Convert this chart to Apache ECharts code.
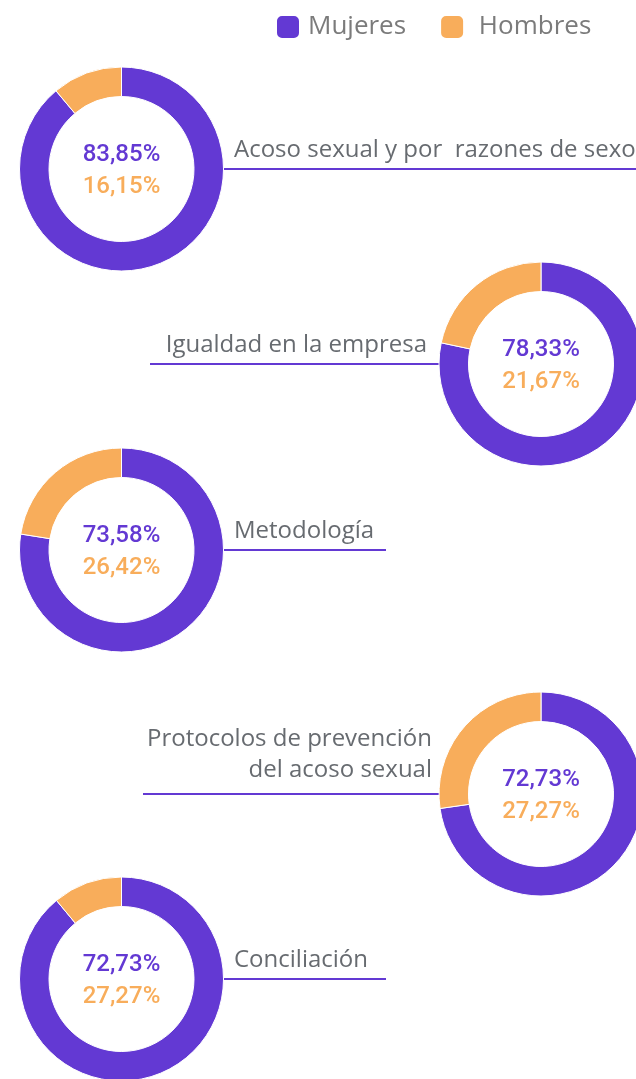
<!DOCTYPE html>
<html>
<head>
<meta charset="utf-8">
<script src="https://cdn.jsdelivr.net/npm/echarts@6/dist/echarts.min.js"></script>
<style>
html,body{margin:0;padding:0;background:#fff;}
#c{width:636px;height:1079px;}
</style>
</head>
<body>
<div id="c"></div>
<script>
// ---- data ----
var categories = ['Acoso sexual y por  razones de sexo', 'Igualdad en la empresa', 'Metodología', 'Protocolos de prevención\ndel acoso sexual', 'Conciliación'];
var seriesNames = ['Mujeres', 'Hombres'];
var mujeresLabels = ['83,85%', '78,33%', '73,58%', '72,73%', '72,73%'];
var hombresLabels = ['16,15%', '21,67%', '26,42%', '27,27%', '27,27%'];
// arc sizes as drawn in the picture
var mujeresArc = [88.9, 78.33, 77.5, 72.73, 89.0];
var hombresArc = [11.1, 21.67, 22.5, 27.27, 11.0];

// ---- layout ----
var PURPLE = '#6339d3', ORANGE = '#f8ad5b';
var centers = [[121.5, 169], [541, 364], [121.5, 550], [541, 794], [121.5, 979]];
var sides = ['right', 'left', 'right', 'left', 'right'];
var lineSpans = [[224, 636], [150, 440], [224, 386], [143, 440], [224, 386]];

var chart = echarts.init(document.getElementById('c'), null, {renderer: 'canvas'});

var series = categories.map(function (cat, i) {
  return {
    type: 'pie',
    name: cat,
    center: centers[i],
    radius: [72.5, 102],
    startAngle: 90,
    clockwise: true,
    silent: true,
    avoidLabelOverlap: false,
    itemStyle: {borderColor: '#fff', borderWidth: 1},
    labelLine: {show: false},
    data: [
      {name: seriesNames[0], value: mujeresArc[i], itemStyle: {color: PURPLE},
        label: {show: true, position: 'center', padding: [4, 0, 0, 0],
          formatter: '{a|' + mujeresLabels[i] + '}\n{b|' + hombresLabels[i] + '}',
          rich: {
            a: {color: PURPLE, fontSize: 24, fontWeight: 500, fontFamily: 'Roboto', lineHeight: 32, align: 'center'},
            b: {color: ORANGE, fontSize: 24, fontWeight: 500, fontFamily: 'Roboto', lineHeight: 32, align: 'center'}
          }}},
      {name: seriesNames[1], value: hombresArc[i], itemStyle: {color: ORANGE}, label: {show: false}}
    ],
    emphasis: {disabled: true}
  };
});

var graphics = [];
categories.forEach(function (cat, i) {
  var cy = centers[i][1];
  var span = lineSpans[i];
  graphics.push({
    type: 'line', silent: true,
    shape: {x1: span[0], y1: cy, x2: span[1], y2: cy},
    style: {stroke: PURPLE, lineWidth: 2}
  });
  var multi = cat.indexOf('\n') >= 0;
  graphics.push({
    type: 'text', silent: true,
    x: sides[i] === 'right' ? 234 : (multi ? 432 : 427),
    y: multi ? cy - 39 : cy - 19,
    style: {
      text: cat,
      fill: '#676b70',
      fontFamily: 'Open Sans',
      fontSize: 24,
      align: sides[i] === 'right' ? 'left' : 'right',
      verticalAlign: 'middle',
      lineHeight: 31
    }
  });
});

chart.setOption({
  animation: false,
  legend: {
    left: 275, top: 14, padding: 0,
    icon: 'roundRect',
    itemWidth: 24, itemHeight: 24,
    itemGap: 33,
    selectedMode: false,
    data: seriesNames,
    formatter: function (n) { return n === 'Hombres' ? ' ' + n : n; },
    textStyle: {color: '#7b7b7b', fontSize: 26, fontFamily: 'Open Sans', padding: [0, 0, 0, 3]}
  },
  series: series,
  graphic: graphics
});
</script>
</body>
</html>
